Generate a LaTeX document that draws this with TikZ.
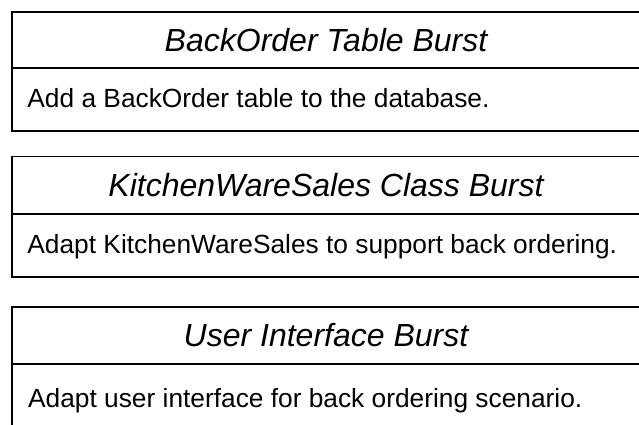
\documentclass[tikz,border=0pt]{standalone}
\usepackage{fontspec}
\setmainfont{Liberation Sans}
\begin{document}
\begin{tikzpicture}[x=1pt,y=-1pt,
  titlebox/.style={draw=black, line width=1.5pt, minimum width=628pt, minimum height=56pt,
    inner sep=0pt, font=\fontsize{32}{37}\selectfont\itshape},
  bodybox/.style={draw=black, line width=1.5pt, minimum width=628pt, inner sep=0pt},
  bodytext/.style={font=\fontsize{26.3}{31}\selectfont, anchor=base west, inner sep=0pt}]
\useasboundingbox (0,0) rectangle (639,424);
\clip (0,0) rectangle (639,424);
% box 1
\node[titlebox] (t1) at (326,40) {BackOrder Table Burst};
\node[bodybox, minimum height=63pt] (b1) at (326,99.5) {};
\node[bodytext] (b1t) at ([xshift=16pt,yshift=-8pt]b1.west) {Add a BackOrder table to the database.};
% box 2
\node[titlebox, minimum height=58pt] (t2) at (326,185.5) {KitchenWareSales Class Burst};
\node[bodybox, minimum height=63pt] (b2) at (326,245.5) {};
\node[bodytext] (b2t) at ([xshift=16pt,yshift=-8pt]b2.west) {Adapt KitchenWareSales to support back ordering.};
% box 3
\node[titlebox, minimum height=57pt] (t3) at (326,335.5) {User Interface Burst};
\node[bodybox, minimum height=100pt] (b3) at (326,414) {};
\node[bodytext] (b3t) at (28,407) {Adapt user interface for back ordering scenario.};
\end{tikzpicture}
\end{document}
